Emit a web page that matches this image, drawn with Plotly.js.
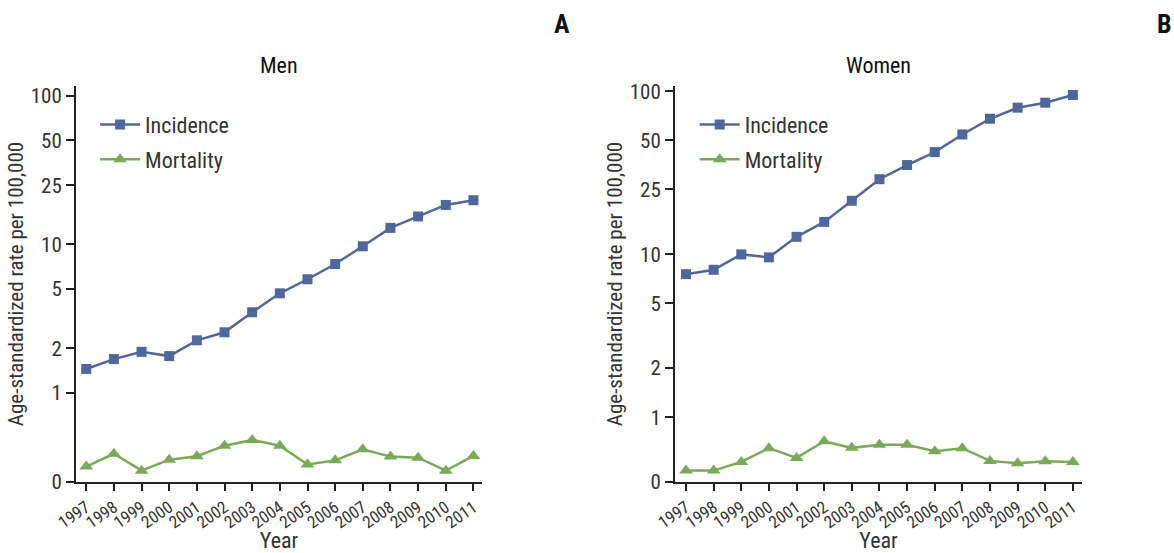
<!DOCTYPE html>
<html>
<head>
<meta charset="utf-8">
<script src="https://cdn.plot.ly/plotly-3.0.1.min.js"></script>
<style>html,body{margin:0;padding:0;background:#fff}#chart{width:1174px;height:553px}</style>
</head>
<body>
<div id="chart"></div>
<script>
const years = [1997,1998,1999,2000,2001,2002,2003,2004,2005,2006,2007,2008,2009,2010,2011];
const menIncidence = [1.45,1.69,1.89,1.77,2.26,2.56,3.49,4.68,5.82,7.37,9.70,12.9,15.4,18.4,19.8];
const menMortality = [0.32,0.39,0.30,0.356,0.375,0.442,0.483,0.442,0.33,0.352,0.418,0.373,0.367,0.30,0.377];
const womenIncidence = [7.55,8.03,9.98,9.57,12.8,15.8,21.3,28.9,35.3,42.4,54.4,67.9,79.4,85.2,95.0];
const womenMortality = [0.47,0.47,0.531,0.645,0.562,0.711,0.648,0.676,0.676,0.618,0.645,0.539,0.521,0.536,0.531];
const yTickLabels = ["0","1","2","5","10","25","50","100"];
const menYTickVals = [0.252,1,2,5,10,25,50,100];
const womenYTickVals = [0.40,1,2,5,10,25,50,100];
const panelTitles = ["Men","Women"];
const panelLetters = ["A","B"];

const BLUE = "#50679e", GREEN = "#7aaa58", INK = "#222222", TXT = "#333333";
const FONT = "Liberation Sans Narrow, Roboto Condensed, DejaVu Sans Condensed, Arial Narrow, sans-serif";

function tr(y, name, color, symbol, xa, ya, leg, grp) {
  return {x: years, y: y, name: name, type: "scatter", mode: "lines+markers",
    xaxis: xa, yaxis: ya, legend: leg, legendgroup: grp,
    line: {color: color, width: 2.5},
    marker: {color: color, symbol: symbol, size: symbol === "square" ? 10 : 12}};
}
const data = [
  tr(menIncidence, "Incidence", BLUE, "square", "x", "y", "legend", "a"),
  tr(menMortality, "Mortality", GREEN, "triangle-up", "x", "y", "legend", "b"),
  tr(womenIncidence, "Incidence", BLUE, "square", "x2", "y2", "legend2", "a"),
  tr(womenMortality, "Mortality", GREEN, "triangle-up", "x2", "y2", "legend2", "b")
];

function xax(domain, anchor, range) {
  return {domain: domain, anchor: anchor, range: range, tickmode: "array", tickvals: years,
    ticktext: years.map(String), tickangle: -35, ticks: "outside", ticklen: 7, tickwidth: 2,
    tickcolor: INK, showline: true, linecolor: INK, linewidth: 2, showgrid: false, zeroline: false,
    tickfont: {family: FONT, size: 17, color: TXT},
    title: {text: "Year", font: {family: FONT, size: 22, color: TXT}}};
}
function yax(anchor, range, vals) {
  return {type: "log", anchor: anchor, domain: [0,1], range: range, tickmode: "array", tickvals: vals,
    ticktext: yTickLabels, ticks: "outside", ticklen: 8, tickwidth: 2, tickcolor: INK,
    showline: true, linecolor: INK, linewidth: 2, showgrid: false, zeroline: false,
    tickfont: {family: FONT, size: 21, color: TXT},
    title: {text: "Age-standardized rate per 100,000", font: {family: FONT, size: 21, color: TXT}}};
}
function leg(x) {
  return {x: x, y: 0.955, xanchor: "left", yanchor: "top", xref: "paper", yref: "paper",
    bgcolor: "rgba(0,0,0,0)", font: {family: FONT, size: 22, color: TXT}, tracegroupgap: 3,
    itemwidth: 40};
}

const layout = {
  width: 1174, height: 553, paper_bgcolor: "#fff", plot_bgcolor: "#fff",
  margin: {l: 76, r: 92, t: 86, b: 71},
  showlegend: true,
  xaxis: xax([0, 0.4036], "y", [1996.63, 2011.31]),
  yaxis: yax("x", [-0.599, 2.065], menYTickVals),
  xaxis2: xax([0.5954, 1], "y2", [1996.6, 2011.33]),
  yaxis2: yax("x2", [-0.398, 2.033], womenYTickVals),
  legend: leg(0.019),
  legend2: leg(0.615),
  annotations: [
    {text: panelTitles[0], x: 0.2018, y: 1.0, xref: "paper", yref: "paper", xanchor: "center", yanchor: "bottom", yshift: 6, showarrow: false, font: {family: FONT, size: 22, color: "#111"}},
    {text: panelTitles[1], x: 0.7977, y: 1.0, xref: "paper", yref: "paper", xanchor: "center", yanchor: "bottom", yshift: 6, showarrow: false, font: {family: FONT, size: 22, color: "#111"}},
    {text: "<b>" + panelLetters[0] + "</b>", x: 0.483, y: 1.157, xref: "paper", yref: "paper", xanchor: "center", yanchor: "middle", showarrow: false, font: {family: FONT, size: 26, color: "#111"}},
    {text: "<b>" + panelLetters[1] + "</b>", x: 1.0825, y: 1.157, xref: "paper", yref: "paper", xanchor: "center", yanchor: "middle", showarrow: false, font: {family: FONT, size: 26, color: "#111"}}
  ]
};
Plotly.newPlot("chart", data, layout, {displayModeBar: false, staticPlot: true});
</script>
</body>
</html>
